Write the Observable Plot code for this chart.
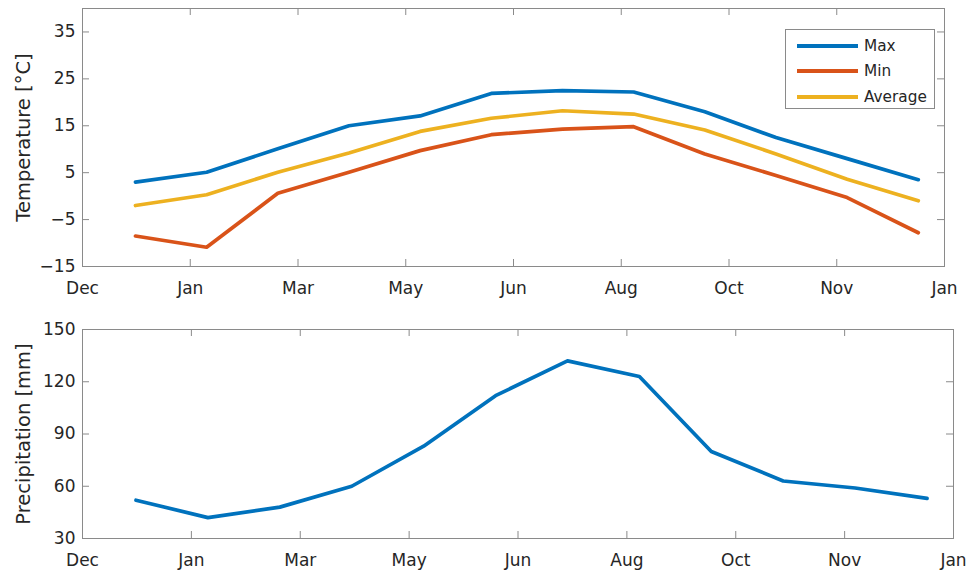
<!DOCTYPE html>
<html>
<head>
<meta charset="utf-8">
<script src="https://cdn.jsdelivr.net/npm/d3@7"></script>
<script src="https://cdn.jsdelivr.net/npm/@observablehq/plot@0.6"></script>
<style>
  html, body { margin: 0; padding: 0; background: #fff; }
  #wrap { position: relative; width: 971px; height: 574px; font-family: "DejaVu Sans", sans-serif; }
  #wrap svg { display: block; }
  #legend { position: absolute; left: 785px; top: 29px; width: 150px; height: 80px; border: 1px solid #8a8a8a; background: #fff; box-sizing: border-box; }
  .entry { position: absolute; left: 0; height: 20px; width: 150px; }
  .sw { position: absolute; left: 11px; top: 8px; width: 61px; height: 4px; }
  .lab { position: absolute; left: 78px; top: 0; font-size: 15.3px; line-height: 20px; color: #262626; }
</style>
</head>
<body>
<div id="wrap">
  <div id="legend"></div>
</div>
<script>
// ---- data ----
const monthIndex = [0, 1, 2, 3, 4, 5, 6, 7, 8, 9, 10, 11];
const tempMax = [3.0, 5.1, 10.1, 15.0, 17.1, 21.9, 22.5, 22.2, 18.0, 12.5, 8.0, 3.5];
const tempMin = [-8.5, -10.9, 0.6, 5.1, 9.7, 13.1, 14.3, 14.8, 9.0, 4.4, -0.3, -7.8];
const tempAvg = [-2.0, 0.3, 5.1, 9.2, 13.8, 16.6, 18.2, 17.5, 14.1, 9.0, 3.6, -1.0];
const precip = [52, 42, 48, 60, 83, 112, 132, 123, 80, 63, 59, 53];

const seriesNames = ["Max", "Min", "Average"];
const seriesColors = ["#0072BD", "#D95319", "#EDB120"];

const xTickPos = [-0.744, 0.770, 2.284, 3.798, 5.312, 6.826, 8.340, 9.854, 11.368];
const xTickLabels = ["Dec", "Jan", "Mar", "May", "Jun", "Aug", "Oct", "Nov", "Jan"];
const tempTicks = [-15, -5, 5, 15, 25, 35];
const precipTicks = [30, 60, 90, 120, 150];

// ---- build tables ----
const tempSeries = [tempMax, tempMin, tempAvg];
const tempRows = [];
tempSeries.forEach((vals, s) => vals.forEach((v, i) => tempRows.push({x: monthIndex[i], y: v, s: seriesNames[s]})));
const precipRows = precip.map((v, i) => ({x: monthIndex[i], y: v}));

const axisColor = "#8a8a8a";
const textColor = "#262626";
const tickLen = 7;

function panel({width, height, ml, mr, mt, mb, ydomain, yticks, ylabel, marks}) {
  const pw = width - ml - mr, ph = height - mt - mb;
  return Plot.plot({
    width, height,
    marginLeft: ml, marginRight: mr, marginTop: mt, marginBottom: mb,
    style: {fontFamily: "DejaVu Sans, sans-serif", fontSize: "17px", color: textColor, background: "#fff"},
    x: {domain: [xTickPos[0], xTickPos[xTickPos.length - 1]]},
    y: {domain: ydomain},
    marks: [
      ...marks,
      Plot.tickX(xTickPos, {x: d => d, stroke: axisColor, insetTop: ph - tickLen}),
      Plot.tickX(xTickPos, {x: d => d, stroke: axisColor, insetBottom: ph - tickLen}),
      Plot.tickY(yticks, {y: d => d, stroke: axisColor, insetRight: pw - tickLen}),
      Plot.tickY(yticks, {y: d => d, stroke: axisColor, insetLeft: pw - tickLen}),
      Plot.frame({stroke: axisColor}),
      Plot.axisX({ticks: xTickPos, tickFormat: (d, i) => xTickLabels[i], tickSize: 0, tickPadding: 15, label: null, fill: textColor}),
      Plot.axisY({ticks: yticks, tickSize: 0, tickPadding: 7, label: null, fill: textColor}),
      Plot.text([ylabel], {text: d => d, frameAnchor: "left", rotate: -90, dx: -59, fontSize: 19.5, lineAnchor: "middle", textAnchor: "middle", fill: textColor})
    ]
  });
}

const topPanel = panel({
  width: 971, height: 300, ml: 82, mr: 27, mt: 8, mb: 34,
  ydomain: [-15, 40], yticks: tempTicks, ylabel: "Temperature [°C]",
  marks: seriesNames.map((n, k) => Plot.line(tempRows.filter(r => r.s === n), {x: "x", y: "y", stroke: seriesColors[k], strokeWidth: 3.7, strokeLinejoin: "round"}))
});

const bottomPanel = panel({
  width: 971, height: 274, ml: 82, mr: 18, mt: 29, mb: 36,
  ydomain: [30, 150], yticks: precipTicks, ylabel: "Precipitation [mm]",
  marks: [Plot.line(precipRows, {x: "x", y: "y", stroke: seriesColors[0], strokeWidth: 3.7, strokeLinejoin: "round"})]
});

const wrap = document.getElementById("wrap");
wrap.insertBefore(bottomPanel, wrap.firstChild);
wrap.insertBefore(topPanel, wrap.firstChild);

// legend
const legend = document.getElementById("legend");
const entryTops = [6, 31, 57];
seriesNames.forEach((n, k) => {
  const e = document.createElement("div");
  e.className = "entry";
  e.style.top = entryTops[k] + "px";
  e.innerHTML = `<div class="sw" style="background:${seriesColors[k]}"></div><div class="lab">${n}</div>`;
  legend.appendChild(e);
});
</script>
</body>
</html>
